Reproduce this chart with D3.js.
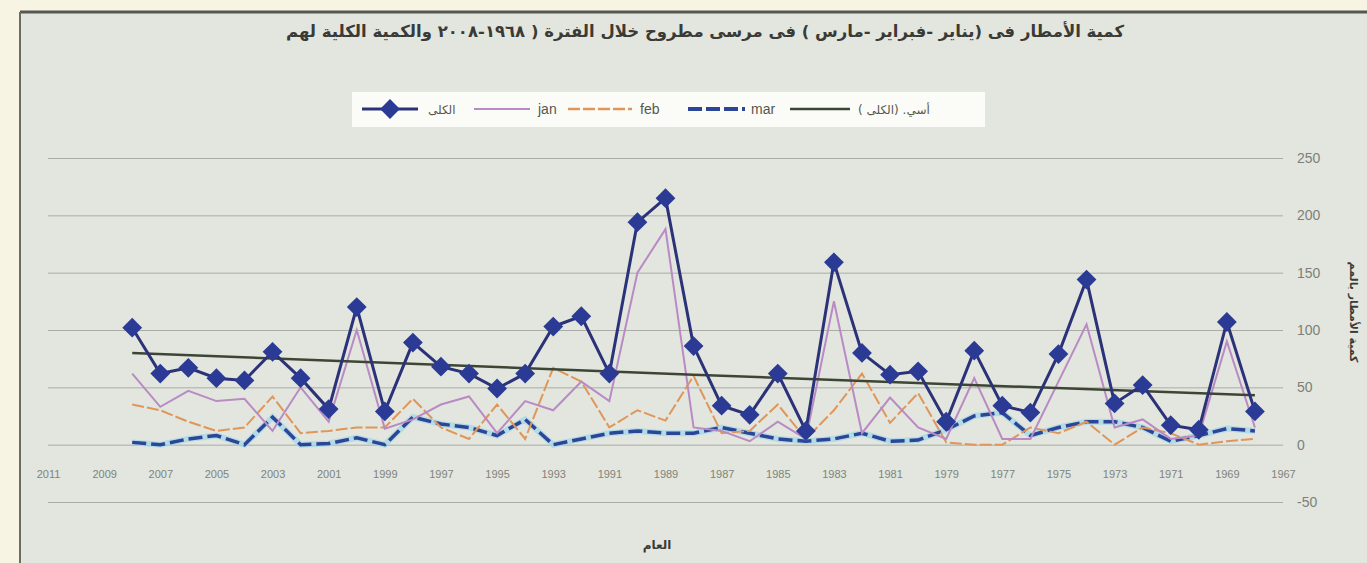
<!DOCTYPE html>
<html>
<head>
<meta charset="utf-8">
<script src="https://cdn.jsdelivr.net/npm/d3@7"></script>
<style>
  body { margin: 0; background: #f7f4e4; }
  svg { display: block; }
</style>
</head>
<body>
<script>
// years shown, newest first (the x axis runs backwards)
var years = [2008, 2007, 2006, 2005, 2004, 2003, 2002, 2001, 2000, 1999,
             1998, 1997, 1996, 1995, 1994, 1993, 1992, 1991, 1990, 1989,
             1988, 1987, 1986, 1985, 1984, 1983, 1982, 1981, 1980, 1979,
             1978, 1977, 1976, 1975, 1974, 1973, 1972, 1971, 1970, 1969, 1968];

// total rain (jan+feb+mar), mm
var total = [102, 62, 67, 58, 56, 81, 58, 31, 120, 29,
             89, 68, 62, 49, 62, 103, 112, 62, 194, 215,
             86, 34, 26, 62, 12, 159, 80, 61, 64, 20,
             82, 34, 28, 79, 144, 36, 52, 17, 13, 107, 29];

var jan = [62, 33, 47, 38, 40, 12, 50, 20, 100, 14,
           22, 35, 42, 10, 38, 30, 55, 38, 150, 188,
           15, 12, 3, 20, 5, 125, 10, 41, 15, 5,
           58, 5, 5, 55, 105, 15, 22, 5, 8, 90, 15];

var feb = [35, 30, 20, 12, 15, 42, 10, 12, 15, 15,
           40, 15, 5, 35, 5, 67, 55, 15, 30, 21,
           60, 10, 12, 35, 5, 30, 62, 19, 45, 2,
           0, 0, 15, 10, 20, 0, 15, 10, 0, 3, 5];

var mar = [2, 0, 5, 8, 0, 24, 0, 1, 6, 0,
           24, 18, 15, 8, 22, 0, 5, 10, 12, 10,
           10, 15, 10, 5, 3, 5, 10, 3, 4, 13,
           25, 28, 8, 15, 20, 20, 15, 3, 8, 14, 12];

// exponential trend of the total
var trendYears = [2008, 1988, 1968];
var trendValues = [80, 61, 43];

var xTicks = d3.range(2011, 1966, -2);
var yTicks = [-50, 0, 50, 100, 150, 200, 250];

var title = "كمية الأمطار فى (يناير -فبراير -مارس ) فى مرسى مطروح خلال الفترة ( ١٩٦٨-٢٠٠٨ والكمية الكلية لهم";
var xTitle = "العام";
var yTitle = "كمية الأمطار بالمم";
var legendNames = ["الكلى", "jan", "feb", "mar", "أسي. (الكلى )"];

var W = 1367, H = 563;
var arabicFont = "'DejaVu Sans', sans-serif";
var latinFont = "'Liberation Sans', Arial, sans-serif";

var svg = d3.select("body").append("svg")
    .attr("width", W)
    .attr("height", H);

// scanned page look: chart area with frame on top and left
svg.append("rect")
    .attr("x", 20).attr("y", 12)
    .attr("width", W - 20).attr("height", H - 12)
    .attr("fill", "#e2e6de");
svg.append("line")
    .attr("x1", 20).attr("x2", W).attr("y1", 12).attr("y2", 12)
    .attr("stroke", "#55584f").attr("stroke-width", 3);
svg.append("line")
    .attr("x1", 20).attr("x2", 20).attr("y1", 12).attr("y2", H)
    .attr("stroke", "#6a6d64").attr("stroke-width", 2);

var x = d3.scaleLinear().domain([2011, 1967]).range([48, 1283]);
var y = d3.scaleLinear().domain([-50, 250]).range([502, 158]);

// gridlines + y labels on the right
var yAxis = d3.axisRight(y)
    .tickValues(yTicks)
    .tickFormat(function(d) { return String(d); })
    .tickSize(-(x(1967) - x(2011)))
    .tickPadding(14);

var gy = svg.append("g")
    .attr("transform", "translate(" + x(1967) + ",0)")
    .call(yAxis);
gy.select(".domain").remove();
gy.selectAll("line").attr("stroke", "#a9ada5").attr("stroke-width", 1);
gy.selectAll("text")
    .attr("fill", "#7d807a")
    .style("font-family", latinFont)
    .style("font-size", "14px");

// x labels
var xAxis = d3.axisBottom(x)
    .tickValues(xTicks)
    .tickFormat(d3.format("d"))
    .tickSize(0)
    .tickPadding(0);

var gx = svg.append("g")
    .attr("transform", "translate(0,470)")
    .call(xAxis);
gx.select(".domain").remove();
gx.selectAll("text")
    .attr("fill", "#80837c")
    .style("font-family", latinFont)
    .style("font-size", "11px");

// series
function pts(vals) {
  return years.map(function(d, i) { return [d, vals[i]]; });
}
var line = d3.line()
    .x(function(d) { return x(d[0]); })
    .y(function(d) { return y(d[1]); });

var plot = svg.append("g");

// march: thick dashed blue with a light halo from the scan
plot.append("path")
    .datum(pts(mar))
    .attr("d", line)
    .attr("fill", "none")
    .attr("stroke", "#9fd6ea")
    .attr("stroke-width", 6)
    .attr("stroke-opacity", 0.7);
plot.append("path")
    .datum(pts(mar))
    .attr("d", line)
    .attr("fill", "none")
    .attr("stroke", "#2b4597")
    .attr("stroke-width", 3.5)
    .attr("stroke-dasharray", "14,5");

plot.append("path")
    .datum(pts(feb))
    .attr("d", line)
    .attr("fill", "none")
    .attr("stroke", "#e0965a")
    .attr("stroke-width", 2)
    .attr("stroke-dasharray", "12,3");

plot.append("path")
    .datum(pts(jan))
    .attr("d", line)
    .attr("fill", "none")
    .attr("stroke", "#b98ac4")
    .attr("stroke-width", 2);

plot.append("path")
    .datum(trendYears.map(function(d, i) { return [d, trendValues[i]]; }))
    .attr("d", line)
    .attr("fill", "none")
    .attr("stroke", "#3d4634")
    .attr("stroke-width", 2.5);

plot.append("path")
    .datum(pts(total))
    .attr("d", line)
    .attr("fill", "none")
    .attr("stroke", "#2c3278")
    .attr("stroke-width", 3);

var diamond = d3.symbol().type(d3.symbolDiamond2).size(250);

plot.selectAll(".dot")
    .data(pts(total))
    .enter().append("path")
    .attr("class", "dot")
    .attr("transform", function(d) { return "translate(" + x(d[0]) + "," + y(d[1]) + ")"; })
    .attr("d", diamond)
    .attr("fill", "#2b3a94");

// titles
svg.append("text")
    .attr("x", 705).attr("y", 37)
    .attr("text-anchor", "middle")
    .attr("direction", "rtl")
    .style("font-family", arabicFont)
    .style("font-size", "16.5px")
    .style("font-weight", "bold")
    .attr("fill", "#3a3a36")
    .text(title);

svg.append("text")
    .attr("x", 657).attr("y", 549)
    .attr("text-anchor", "middle")
    .style("font-family", arabicFont)
    .style("font-size", "12px")
    .style("font-weight", "bold")
    .attr("fill", "#3a3a36")
    .text(xTitle);

svg.append("text")
    .attr("transform", "translate(1350,312) rotate(90)")
    .attr("text-anchor", "middle")
    .style("font-family", arabicFont)
    .style("font-size", "11px")
    .style("font-weight", "bold")
    .attr("fill", "#3a3a36")
    .text(yTitle);

// legend
var lg = svg.append("g");
lg.append("rect")
    .attr("x", 352).attr("y", 92)
    .attr("width", 633).attr("height", 35)
    .attr("fill", "#fbfcf8");

var legendItems = [
  {x: 362, w: 56, tx: 428, color: "#2c3278", width: 3, dash: null, dot: true},
  {x: 474, w: 56, tx: 538, color: "#b98ac4", width: 2, dash: null},
  {x: 568, w: 64, tx: 640, color: "#e0965a", width: 2.5, dash: "12,3"},
  {x: 688, w: 57, tx: 751, color: "#2b4597", width: 4, dash: "14,4"},
  {x: 790, w: 60, tx: 858, color: "#3d4634", width: 2.5, dash: null}
];

legendItems.forEach(function(it, i) {
  var latin = i >= 1 && i <= 3;
  lg.append("line")
      .attr("x1", it.x).attr("x2", it.x + it.w)
      .attr("y1", 109).attr("y2", 109)
      .attr("stroke", it.color)
      .attr("stroke-width", it.width)
      .attr("stroke-dasharray", it.dash);
  if (it.dot) {
    lg.append("path")
        .attr("transform", "translate(" + (it.x + it.w / 2) + ",109)")
        .attr("d", diamond)
        .attr("fill", "#2b3a94");
  }
  lg.append("text")
      .attr("x", it.tx).attr("y", 114)
      .style("font-family", latin ? latinFont : arabicFont)
      .style("font-size", latin ? "14px" : "12px")
      .attr("fill", "#55574f")
      .text(legendNames[i]);
});
</script>
</body>
</html>
